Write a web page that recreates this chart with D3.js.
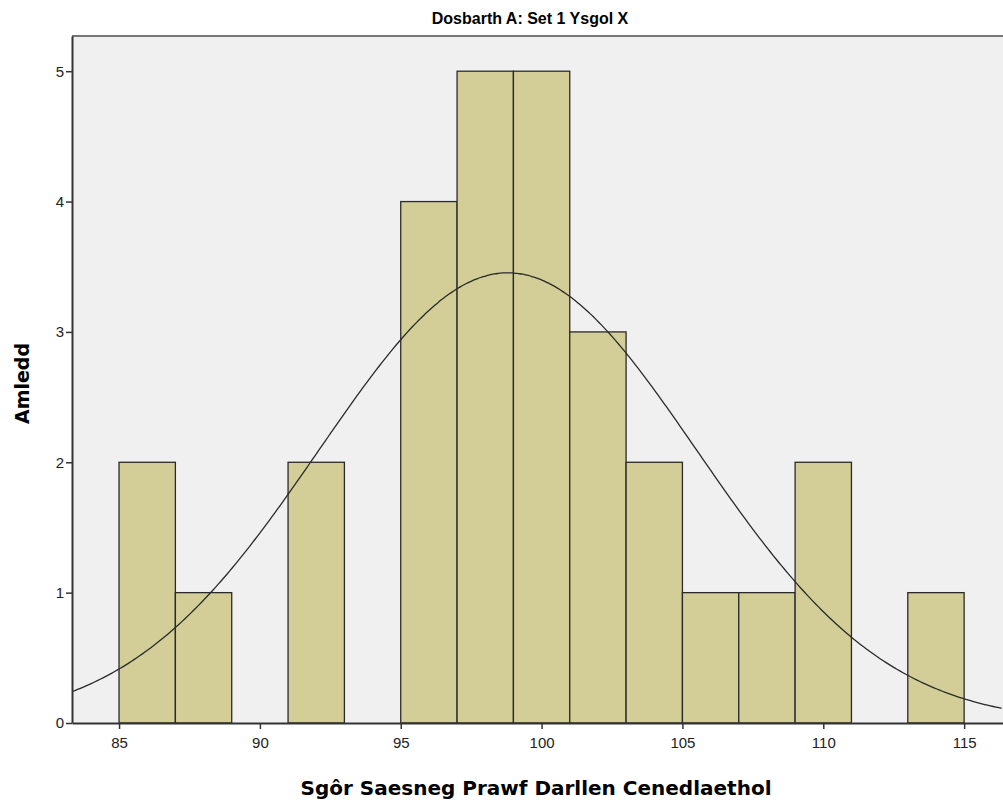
<!DOCTYPE html>
<html>
<head>
<meta charset="utf-8">
<script src="https://cdn.jsdelivr.net/npm/d3@7"></script>
<style>
  body { margin: 0; background: #fff; }
  .tick text { font-family: "Liberation Sans", Arial, sans-serif; font-size: 15px; fill: #222; }
</style>
</head>
<body>
<div id="chart"></div>
<script>
// histogram bins (lower edge, upper edge, count)
var binStart = [85, 87, 91, 95, 97, 99, 101, 103, 105, 107, 109, 113];
var binEnd   = [87, 89, 93, 97, 99, 101, 103, 105, 107, 109, 111, 115];
var counts   = [2, 1, 2, 4, 5, 5, 3, 2, 1, 1, 2, 1];
var xTicks = [85, 90, 95, 100, 105, 110, 115];
var yTicks = [0, 1, 2, 3, 4, 5];

// fitted normal curve parameters
var mean = 98.8;
var sd = 6.7;

var svgWidth = 1003;
var svgHeight = 806;

var margin = { top: 36, right: 0, bottom: 83, left: 72 };
var width = svgWidth - margin.left - margin.right;
var height = svgHeight - margin.top - margin.bottom;

var svg = d3.select("#chart")
  .append("svg")
  .attr("width", svgWidth)
  .attr("height", svgHeight);

var chartGroup = svg.append("g")
  .attr("transform", `translate(${margin.left}, ${margin.top})`);

var xScale = d3.scaleLinear()
  .domain([83.33, 116.38])
  .range([0, width]);

var yScale = d3.scaleLinear()
  .domain([0, 5.27])
  .range([height, 0]);

// plot background
chartGroup.append("rect")
  .attr("width", width)
  .attr("height", height)
  .attr("fill", "#f0f0f0");

// top frame line
chartGroup.append("line")
  .attr("x1", 0).attr("x2", width)
  .attr("y1", 0).attr("y2", 0)
  .attr("stroke", "#777")
  .attr("stroke-width", 2);

// bars
var bins = counts.map((c, i) => ({ x0: binStart[i], x1: binEnd[i], n: c }));

chartGroup.selectAll(".bar")
  .data(bins)
  .enter()
  .append("rect")
  .attr("class", "bar")
  .attr("x", d => xScale(d.x0))
  .attr("y", d => yScale(d.n))
  .attr("width", d => xScale(d.x1) - xScale(d.x0))
  .attr("height", d => yScale(0) - yScale(d.n))
  .attr("fill", "#d3ce97")
  .attr("stroke", "#2a2a2a")
  .attr("stroke-width", 1.3);

// normal curve scaled to counts
var total = d3.sum(counts);
var binWidth = 2;
var xs = d3.range(83.33, 116.4, 0.1);
var curve = xs.map(x => [x, total * binWidth / (sd * Math.sqrt(2 * Math.PI)) * Math.exp(-0.5 * Math.pow((x - mean) / sd, 2))]);

var line = d3.line()
  .x(d => xScale(d[0]))
  .y(d => yScale(d[1]))
  .curve(d3.curveBasis);

chartGroup.append("path")
  .datum(curve)
  .attr("d", line)
  .attr("fill", "none")
  .attr("stroke", "#2a2a2a")
  .attr("stroke-width", 1.3);

// axes
var bottomAxis = d3.axisBottom(xScale).tickValues(xTicks).tickSize(6).tickSizeOuter(0).tickFormat(d3.format("d"));
var leftAxis = d3.axisLeft(yScale).tickValues(yTicks).tickSize(6).tickSizeOuter(0).tickFormat(d3.format("d"));

var xAxisG = chartGroup.append("g")
  .attr("transform", `translate(0, ${height})`)
  .call(bottomAxis);
xAxisG.selectAll("text").attr("y", 14).attr("dy", "0.71em");

var yAxisG = chartGroup.append("g")
  .call(leftAxis);
yAxisG.selectAll("text").attr("x", -8);

chartGroup.selectAll(".domain").attr("stroke", "#333").attr("stroke-width", 2);
chartGroup.selectAll(".tick line").attr("stroke", "#333").attr("stroke-width", 1.5);

// title
svg.append("text")
  .attr("x", 530)
  .attr("y", 24)
  .attr("text-anchor", "middle")
  .style("font-family", "'Liberation Sans Narrow', 'Liberation Sans', Arial, sans-serif")
  .style("font-weight", "bold")
  .style("font-size", "16px")
  .text("Dosbarth A: Set 1 Ysgol X");

// axis labels
svg.append("text")
  .attr("transform", "rotate(-90)")
  .attr("x", -(margin.top + height / 2) - 4)
  .attr("y", 29)
  .attr("text-anchor", "middle")
  .style("font-family", "'DejaVu Sans', sans-serif")
  .style("font-weight", "bold")
  .style("font-size", "19px")
  .text("Amledd");

svg.append("text")
  .attr("x", 536)
  .attr("y", 795)
  .attr("text-anchor", "middle")
  .style("font-family", "'DejaVu Sans', sans-serif")
  .style("font-weight", "bold")
  .style("font-size", "20px")
  .text("Sgôr Saesneg Prawf Darllen Cenedlaethol");
</script>
</body>
</html>
